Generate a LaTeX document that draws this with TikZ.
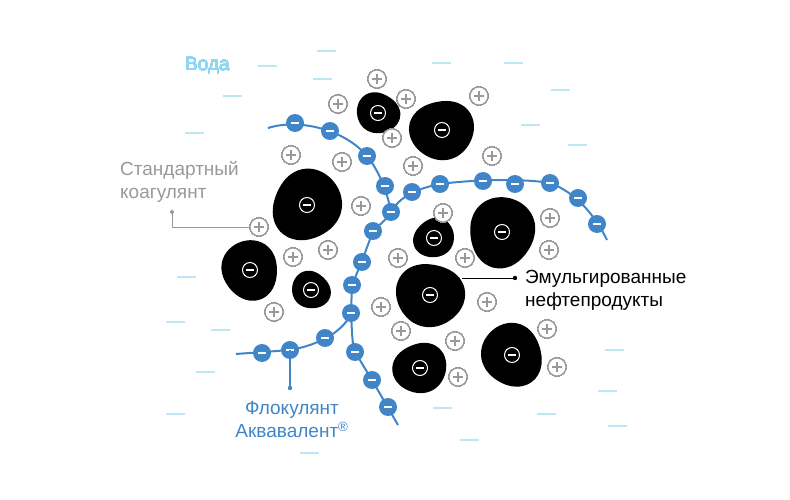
\documentclass[tikz,border=0pt]{standalone}
\usepackage{fontspec}
\setmainfont{Liberation Sans}
\definecolor{fblue}{HTML}{3F85C8}
\definecolor{wblue}{HTML}{BDE7F7}
\definecolor{lblue}{HTML}{8FD6F4}
\definecolor{gtext}{HTML}{999999}
\begin{document}
\begin{tikzpicture}[x=1pt,y=-1pt,
  dashw/.style={wblue,line width=1.3pt},
  chain/.style={fblue,line width=2pt},
  lbl/.style={font=\fontsize{19}{23}\selectfont,align=left,inner sep=0pt}]
\useasboundingbox (0,0) rectangle (790,500);
\newcommand\plusc[2]{\draw[gtext,line width=1.1pt,fill=white] (#1,#2) circle (9);
  \draw[gtext,line width=1.4pt] (#1-5,#2)--(#1+5,#2) (#1,#2-5)--(#1,#2+5);}
\newcommand\bead[2]{\fill[fblue] (#1,#2) circle (9);
  \draw[white,line width=1.5pt] (#1-4,#2)--(#1+4,#2);}
\newcommand\blob[4]{\fill[black] plot[smooth cycle,domain=0:345,samples=24]
  ({#1+#3*(1+0.05*sin(2*\x+#4)+0.03*sin(3*\x+2*#4))*cos(\x)},{#2+#3*(1+0.05*sin(2*\x+#4)+0.03*sin(3*\x+2*#4))*sin(\x)});
  \draw[white,line width=1pt] (#1,#2) circle (7.5);
  \draw[white,line width=1.3pt] (#1-4,#2)--(#1+4,#2);}
% water dashes
\foreach \a/\b in {258/66,313/79,223/96,185/133,317/51,432/63,504/63,551/90,521/125,568/145,
  177/277,166/322,211/330,196/372,166/414,433/408,537/414,598/391,605/350,608/426,460/440,300/453}
  \draw[dashw] (\a,\b)--++(19,0);
% blobs
\blob{378}{113}{21}{40}
\blob{442}{130}{31}{110}
\blob{307}{205}{35}{200}
\blob{250}{270}{29}{300}
\blob{311}{290}{19}{20}
\blob{434}{238}{20}{160}
\blob{502}{232}{34}{250}
\blob{430}{295}{33}{70}
\blob{420}{368}{26}{130}
\blob{512}{355}{31}{330}
% chains
\draw[chain] (268,128) .. controls (300,118) and (345,130) .. (367,156)
  .. controls (380,172) and (388,195) .. (391,212)
  .. controls (385,222) and (375,228) .. (373,231) -- (362,261) -- (352,285) -- (351,313)
  .. controls (345,330) and (320,345) .. (290,350) -- (236,354);
\draw[chain] (391,212) .. controls (398,200) and (410,190) .. (440,184)
  .. controls (470,180) and (520,178) .. (550,183) .. controls (575,192) and (595,215) .. (607,240);
\draw[chain] (351,313) .. controls (352,330) and (352,345) .. (355,352) -- (372,380) -- (398,425);
\foreach \a/\b in {295/123,330/131,367/156,385/186,391/212,373/231,362/262,352/285,351/313,325/338,290/350,262/353,
  412/192,440/184,483/181,515/184,550/183,578/198,597/224,355/352,372/380,388/407}
  \bead{\a}{\b}
% pluses
\foreach \a/\b in {377/79,338/104,406/99,479/96,392/138,291/155,342/162,413/166,492/156,
  361/206,259/227,443/213,550/218,549/250,293/257,328/250,398/258,465/258,274/312,381/307,487/302,
  401/331,455/341,547/329,557/367,458/377}
  \plusc{\a}{\b}
% labels & leaders
\node[lbl,lblue,anchor=west] (voda) at (185,66) {Вода};
\node[lbl,gtext,anchor=west] (koag) at (120,182) {Стандартный\\коагулянт};
\draw[gtext,line width=1pt] (172,212) -- (172,227) -- (250,227);
\fill[gtext] (172,212) circle (2);
\node[lbl,black,anchor=west] (emul) at (525,290) {Эмульгированные\\нефтепродукты};
\draw[black,line width=1pt] (462,278) -- (515,278);
\fill[black] (515,278) circle (2.2);
\node[lbl,fblue,align=center] (flok) at (292,420) {Флокулянт\\Аквавалент\textsuperscript{®}};
\draw[fblue,line width=1.3pt] (290,350) -- (290,388);
\fill[fblue] (290,388) circle (2.2);
\end{tikzpicture}
\end{document}
